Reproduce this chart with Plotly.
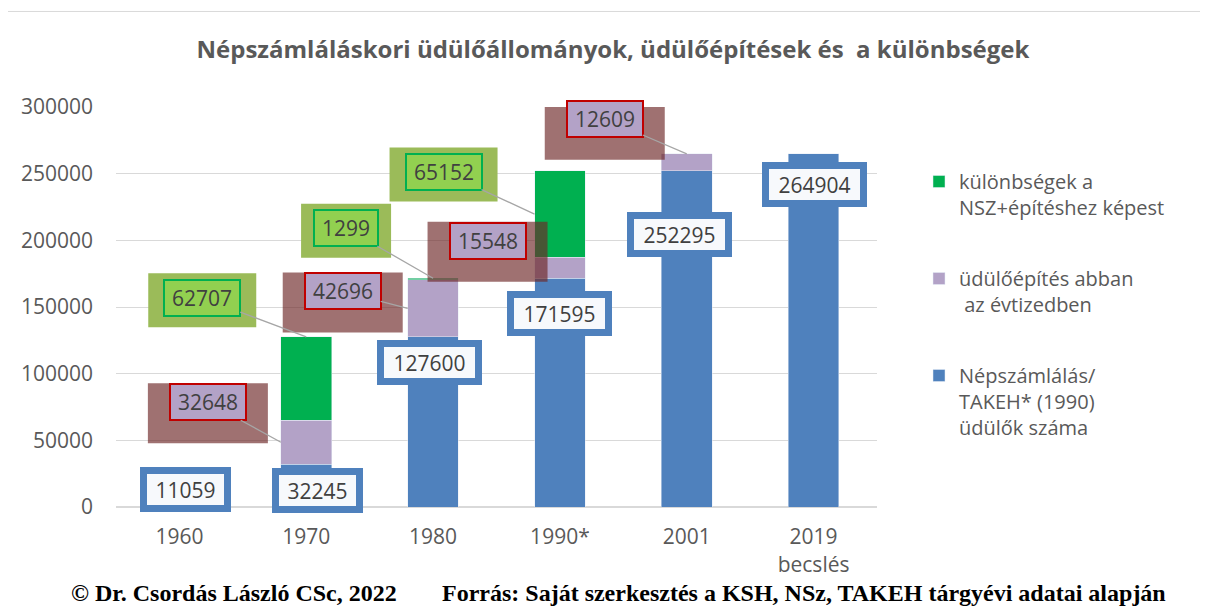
import plotly.graph_objects as go

# ---------------- data ----------------
categories = ["1960", "1970", "1980", "1990*", "2001", "2019<br>becslés"]
census = [11059, 32245, 127600, 171595, 252295, 264904]      # Népszámlálás / TAKEH
built = [None, 32648, 42696, 15548, 12609, None]             # üdülőépítés
diff = [None, 62707, 1299, 65152, None, None]                # különbségek
y_ticks = [0, 50000, 100000, 150000, 200000, 250000, 300000]

title = "Népszámláláskori üdülőállományok, üdülőépítések és  a különbségek"
name_diff = "különbségek a<br>NSZ+építéshez képest"
name_built = "üdülőépítés abban<br> az évtizedben"
name_census = "Népszámlálás/<br>TAKEH* (1990)<br>üdülők száma"
footer_left = "© Dr. Csordás László CSc, 2022"
footer_right = "Forrás: Saját szerkesztés a KSH, NSz, TAKEH tárgyévi adatai alapján"

# ---------------- styles ----------------
BLUE, PURPLE, GREEN = "#4F81BD", "#B3A2C7", "#00B050"
GRAY_TXT = "#595959"
LBL_TXT = "#404040"
FONT = "Open Sans"
BAR_W = 0.4

# label placement (pixel offsets) -- layout only
blue_shift = [(6, 3), (11, -26), (-4, -26), (0, -35), (-7, -64), (1, -31)]
# purple: (target kind, ax, ay)
purple_pos = {1: ("edge", -73, -40), 2: ("edge", -65, -17), 3: ("edge", -47, -27), 4: ("top", -82, -35)}
purple_line = {1: True, 2: True, 3: False, 4: True}
green_pos = {1: ("top", -104, -39), 2: ("top", -87, -50), 3: ("edge", -91, -42)}

fig = go.Figure()
fig.add_trace(go.Bar(x=categories, y=census, name=name_census, marker_color=BLUE,
                     legendgroup="c", legendrank=3, width=BAR_W))
fig.add_trace(go.Bar(x=categories, y=built, name=name_built, marker_color=PURPLE,
                     legendgroup="b", legendrank=2, width=BAR_W))
fig.add_trace(go.Bar(x=categories, y=diff, name=name_diff, marker_color=GREEN,
                     legendgroup="d", legendrank=1, width=BAR_W))

annotations = []
shapes = []

# blue labels
for i, v in enumerate(census):
    dx, dy = blue_shift[i]
    w = 91 if len(str(v)) >= 6 else 77
    annotations.append(dict(
        x=i, y=v, xref="x", yref="y", text=str(v), showarrow=False,
        xshift=dx, yshift=dy, width=w, height=31,
        bgcolor="#F7F9FC", bordercolor=BLUE, borderwidth=7, borderpad=0,
        font=dict(family=FONT, size=21, color=LBL_TXT)))


def target(i, kind, base, seg):
    if kind == "edge":
        return i - BAR_W / 2, base + seg / 2
    return i, base + seg


def boxed(i, kind, ax, ay, base, seg, inner_w, outer_w, outer_h, dy_outer,
          bg, border, outer_color, line=True):
    tx, ty = target(i, kind, base, seg)
    cx = ax
    cy = -(ay + dy_outer)
    shapes.append(dict(
        type="rect", xref="x", yref="y", xsizemode="pixel", ysizemode="pixel",
        xanchor=tx, yanchor=ty,
        x0=cx - outer_w / 2, x1=cx + outer_w / 2,
        y0=cy - outer_h / 2, y1=cy + outer_h / 2,
        fillcolor=outer_color, line=dict(width=0), layer="above"))
    annotations.append(dict(
        x=tx, y=ty, xref="x", yref="y", ax=ax, ay=ay, text=str(seg),
        showarrow=True, arrowhead=0, arrowwidth=1.3, standoff=0,
        arrowcolor="#A6A6A6" if line else "rgba(0,0,0,0)",
        width=inner_w, height=34, bgcolor=bg, bordercolor=border,
        borderwidth=2, borderpad=0,
        font=dict(family=FONT, size=21, color=LBL_TXT)))


for i, (kind, ax, ay) in purple_pos.items():
    boxed(i, kind, ax, ay, census[i], built[i], 74, 120, 60, 11,
          PURPLE, "#C00000", "rgba(110,40,40,0.66)", purple_line[i])

for i, (kind, ax, ay) in green_pos.items():
    seg = diff[i]
    four = len(str(seg)) <= 4
    boxed(i, kind, ax, ay, census[i] + built[i], seg, 62 if four else 74,
          90 if four else 108, 54, 2.5, "#92D050", GREEN, "#9BBB59")

# footer
annotations.append(dict(x=-0.0618, y=-0.215, xref="paper", yref="paper", xanchor="left",
                        yanchor="middle", showarrow=False, text="<b>" + footer_left + "</b>",
                        font=dict(family="Liberation Serif", size=24, color="#000000")))
annotations.append(dict(x=0.4258, y=-0.215, xref="paper", yref="paper", xanchor="left",
                        yanchor="middle", showarrow=False, text="<b>" + footer_right + "</b>",
                        font=dict(family="Liberation Serif", size=24, color="#000000")))

# chart border
shapes.append(dict(type="rect", xref="paper", yref="paper", x0=-0.1426, x1=1.45,
                   y0=-0.29, y1=1.2388, line=dict(color="#D9D9D9", width=1),
                   fillcolor="rgba(0,0,0,0)", layer="below"))

fig.update_layout(
    width=1208, height=608,
    margin=dict(l=108, r=339, t=99, b=109),
    paper_bgcolor="white", plot_bgcolor="white",
    barmode="stack",
    title=dict(text="<b>" + title + "</b>", x=0.5008, xref="container", xanchor="center",
               y=0.9309, yref="container", yanchor="middle",
               font=dict(family=FONT, size=24, color=GRAY_TXT)),
    legend=dict(x=1.0552, xanchor="left", y=0.8625, yanchor="top",
                traceorder="grouped", valign="top",
                tracegroupgap=42, font=dict(family=FONT, size=20, color=GRAY_TXT),
                bgcolor="rgba(0,0,0,0)"),
    xaxis=dict(showgrid=False, showline=True, linecolor="#D9D9D9", linewidth=1,
               tickfont=dict(family=FONT, size=21, color=GRAY_TXT), ticks="",
               ticklabelstandoff=11),
    yaxis=dict(range=[0, 300000], tickvals=y_ticks, showgrid=True, gridcolor="#D9D9D9",
               gridwidth=1, zeroline=True, zerolinecolor="#D9D9D9", showline=False,
               tickfont=dict(family=FONT, size=21, color=GRAY_TXT), ticks="",
               ticklabelstandoff=22, tickformat="d"),
    annotations=annotations,
    shapes=shapes,
    showlegend=True,
)

fig.write_html("out.html")
